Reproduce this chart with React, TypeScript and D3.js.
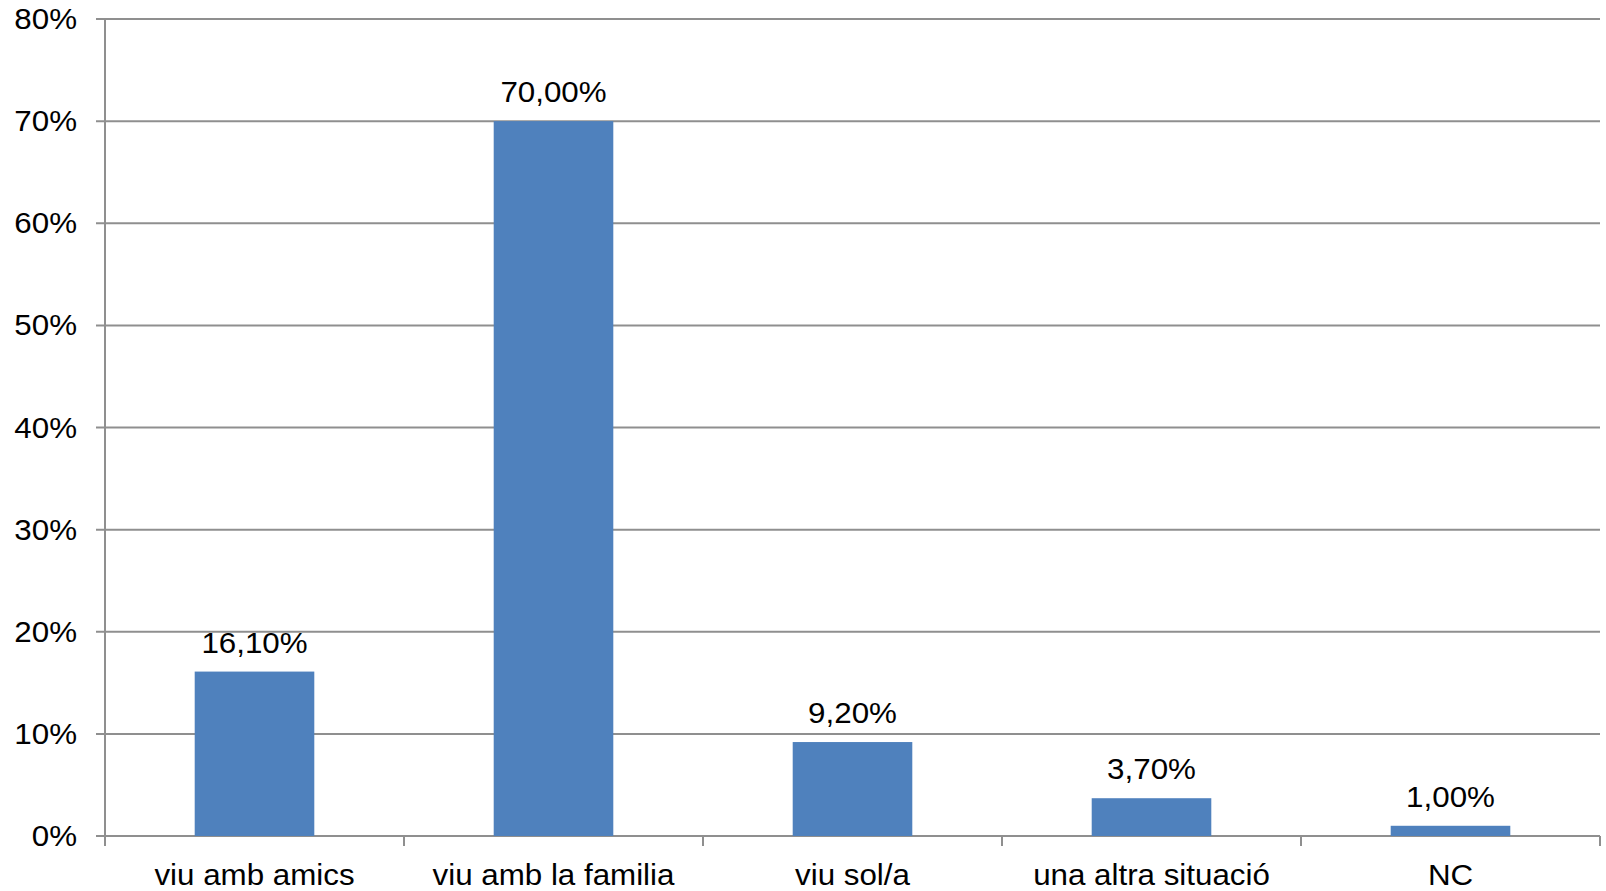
import React from "react";
import * as d3 from "d3";

const categories = ["viu amb amics", "viu amb la familia", "viu sol/a", "una altra situació", "NC"];
const values = [16.1, 70.0, 9.2, 3.7, 1.0];
const yTicks = [0, 10, 20, 30, 40, 50, 60, 70, 80];

const W = 1606;
const H = 891;
const M = { left: 105, right: 6, top: 19, bottom: 55 };
const FS = 29;
const SX = 1.08;

function T(props: { x: number; y: number; anchor: string; baseline?: string; children: React.ReactNode }) {
  return (
    <text
      transform={`translate(${props.x},${props.y}) scale(${SX},1)`}
      textAnchor={props.anchor}
      dominantBaseline={props.baseline || "alphabetic"}
      fontSize={FS}
      fill="#000"
    >
      {props.children}
    </text>
  );
}

export default function App() {
  const x = d3.scaleBand<string>().domain(categories).range([M.left, W - M.right]).padding(0);
  const y = d3.scaleLinear().domain([0, 80]).range([H - M.bottom, M.top]);
  const bw = x.bandwidth() * 0.4;
  const font = "'Liberation Sans', Arial, sans-serif";
  const grid = "#8f8f8f";
  const fmt = (v: number) => v.toFixed(2).replace(".", ",") + "%";
  const boundaries = categories.map((c) => x(c)!).concat([W - M.right]);

  return (
    <svg width={W} height={H} style={{ position: "absolute", left: 0, top: 0, background: "#fff" }} fontFamily={font}>
      {yTicks.map((t) => (
        <g key={t}>
          <line x1={M.left - 9} x2={W - M.right} y1={y(t)} y2={y(t)} stroke={grid} strokeWidth={2} />
          <T x={77} y={y(t)} anchor="end" baseline="central">
            {t}%
          </T>
        </g>
      ))}
      <line x1={M.left} x2={M.left} y1={M.top} y2={y(0)} stroke={grid} strokeWidth={2} />
      {boundaries.map((b, i) => (
        <line key={i} x1={b} x2={b} y1={y(0)} y2={y(0) + 10} stroke={grid} strokeWidth={2} />
      ))}
      {categories.map((c, i) => {
        const cx = x(c)! + x.bandwidth() / 2;
        return (
          <g key={c}>
            <rect x={cx - bw / 2} y={y(values[i])} width={bw} height={y(0) - y(values[i])} fill="#4f81bd" />
            <T x={cx} y={y(values[i]) - 19} anchor="middle">
              {fmt(values[i])}
            </T>
            <T x={cx} y={885} anchor="middle">
              {c}
            </T>
          </g>
        );
      })}
    </svg>
  );
}
